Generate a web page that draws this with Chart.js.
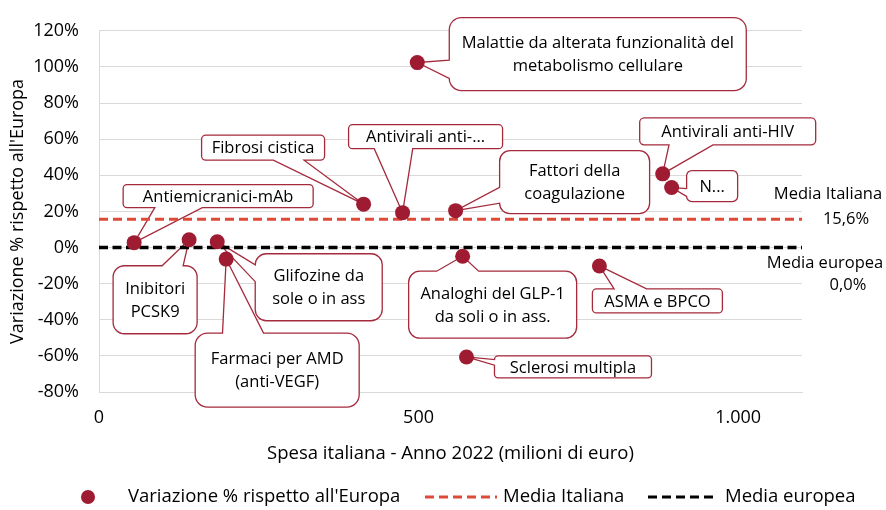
<!DOCTYPE html>
<html>
<head>
<meta charset="utf-8">
<script src="https://cdn.jsdelivr.net/npm/chart.js@4"></script>
<style>
  body { margin: 0; background: #fff; }
  #wrap { width: 886px; height: 510px; }
</style>
</head>
<body>
<div id="wrap"><canvas id="myChart"></canvas></div>
<script>
// dati
const categorie = [
  'Antiemicranici-mAb', 'Inibitori PCSK9', 'Glifozine da sole o in ass', 'Farmaci per AMD (anti-VEGF)',
  'Fibrosi cistica', 'Antivirali anti-...', 'Malattie da alterata funzionalità del metabolismo cellulare',
  'Fattori della coagulazione', 'Antivirali anti-HIV', 'N...', 'Analoghi del GLP-1 da soli o in ass.',
  'ASMA e BPCO', 'Sclerosi multipla'
];
const spesa = [55, 141, 185, 199, 414, 475, 498, 558, 882, 896, 569, 783, 575];
const variazione = [2.7, 4.3, 3.2, -6.4, 24.0, 19.3, 102.4, 20.4, 40.8, 33.2, -4.8, -10.2, -60.6];
const mediaItaliana = 15.6;
const mediaEuropea = 0.0;
const xTicks = [0, 500, 1000];
const yTicks = [-80, -60, -40, -20, 0, 20, 40, 60, 80, 100, 120];

// testo visibile nei riquadri (righe)
const etichette = [
  ['Antiemicranici-mAb'], ['Inibitori', 'PCSK9'], ['Glifozine da', 'sole o in ass'], ['Farmaci per AMD', '(anti-VEGF)'],
  ['Fibrosi cistica'], ['Antivirali anti-...'], ['Malattie da alterata funzionalità del', 'metabolismo cellulare'],
  ['Fattori della', 'coagulazione'], ['Antivirali anti-HIV'], ['N...'], ['Analoghi del GLP-1', 'da soli o in ass.'],
  ['ASMA e BPCO'], ['Sclerosi multipla']
];
// posizione dei riquadri rispetto al punto: [sinistra, alto, larghezza, altezza] in px
const riquadri = [
  [-11, -58, 190, 23], [-76, 26, 84, 68], [38, 12, 127, 67], [-31, 74, 164, 74],
  [-162, -69, 123, 25], [-54, -88, 154, 24], [32, -45, 297, 73],
  [44, -60, 150, 63], [-23, -56, 176, 27], [15, -17, 51, 31], [-54, 15, 168, 67],
  [-7, 23, 130, 24], [28, -1, 157, 22]
];

const FONT = '"Open Sans", sans-serif';
const ROSSO = '#9E1B32';
const BORDO = '#A52A3C';
const ARANCIO = '#DD4A38';

function fmtNum(v) {
  return String(v).replace(/\B(?=(\d{3})+(?!\d))/g, '.');
}
function fmtPct(v) {
  return v.toFixed(1).replace('.', ',') + '%';
}

function callout(ctx, x, y, w, h, tx, ty) {
  const r = Math.min(w, h) / 6;
  const dx = tx - (x + w / 2), dy = ty - (y + h / 2);
  const vert = Math.abs(dy / h) > Math.abs(dx / w);
  const x1 = x + w * (dx > 0 ? 7 : 2) / 12, x2 = x + w * (dx > 0 ? 10 : 5) / 12;
  const y1 = y + h * (dy > 0 ? 7 : 2) / 12, y2 = y + h * (dy > 0 ? 10 : 5) / 12;
  ctx.beginPath();
  ctx.moveTo(x + r, y);
  if (vert && dy < 0) { ctx.lineTo(x1, y); ctx.lineTo(tx, ty); ctx.lineTo(x2, y); }
  ctx.lineTo(x + w - r, y);
  ctx.arcTo(x + w, y, x + w, y + r, r);
  if (!vert && dx > 0) { ctx.lineTo(x + w, y1); ctx.lineTo(tx, ty); ctx.lineTo(x + w, y2); }
  ctx.lineTo(x + w, y + h - r);
  ctx.arcTo(x + w, y + h, x + w - r, y + h, r);
  if (vert && dy > 0) { ctx.lineTo(x2, y + h); ctx.lineTo(tx, ty); ctx.lineTo(x1, y + h); }
  ctx.lineTo(x + r, y + h);
  ctx.arcTo(x, y + h, x, y + h - r, r);
  if (!vert && dx < 0) { ctx.lineTo(x, y2); ctx.lineTo(tx, ty); ctx.lineTo(x, y1); }
  ctx.lineTo(x, y + r);
  ctx.arcTo(x, y, x + r, y, r);
  ctx.closePath();
  ctx.fillStyle = '#fff';
  ctx.fill();
  ctx.strokeStyle = BORDO;
  ctx.lineWidth = 1.3;
  ctx.stroke();
}

const calloutPlugin = {
  id: 'callouts',
  beforeDatasetsDraw(chart) {
    const ctx = chart.ctx;
    const xs = chart.scales.x, ys = chart.scales.y;
    ctx.save();
    spesa.forEach((v, i) => {
      const px = xs.getPixelForValue(v), py = ys.getPixelForValue(variazione[i]);
      const b = riquadri[i];
      const bx = px + b[0], by = py + b[1];
      callout(ctx, bx, by, b[2], b[3], px, py);
      ctx.fillStyle = '#000';
      ctx.font = '16.5px ' + FONT;
      ctx.textAlign = 'center';
      ctx.textBaseline = 'middle';
      const lines = etichette[i];
      const lh = 23;
      const top = by + b[3] / 2 - (lines.length - 1) * lh / 2;
      lines.forEach((t, k) => ctx.fillText(t, bx + b[2] / 2, top + k * lh + 1));
    });
    ctx.restore();
  }
};

const extraPlugin = {
  id: 'extra',
  afterDraw(chart) {
    const ctx = chart.ctx;
    const ys = chart.scales.y;
    ctx.save();
    ctx.fillStyle = '#000';
    ctx.textBaseline = 'middle';
    ctx.textAlign = 'center';
    ctx.font = '16.5px ' + FONT;
    const yi = ys.getPixelForValue(mediaItaliana);
    ctx.fillText('Media Italiana', 828, yi - 25);
    ctx.fillText(fmtPct(mediaItaliana), 846, yi);
    const ye = ys.getPixelForValue(mediaEuropea);
    ctx.fillText('Media europea', 825, ye + 16);
    ctx.fillText(fmtPct(mediaEuropea), 848, ye + 38);

    // legenda
    const ly = 497;
    ctx.textAlign = 'left';
    ctx.font = '18.5px ' + FONT;
    ctx.beginPath();
    ctx.arc(88, ly, 7, 0, Math.PI * 2);
    ctx.fillStyle = ROSSO;
    ctx.fill();
    ctx.fillStyle = '#000';
    ctx.fillText("Variazione % rispetto all'Europa", 128, ly);
    ctx.lineWidth = 3;
    ctx.setLineDash([9, 5]);
    ctx.strokeStyle = ARANCIO;
    ctx.beginPath(); ctx.moveTo(425, ly); ctx.lineTo(497, ly); ctx.stroke();
    ctx.strokeStyle = '#000';
    ctx.beginPath(); ctx.moveTo(648, ly); ctx.lineTo(718, ly); ctx.stroke();
    ctx.setLineDash([]);
    ctx.fillText('Media Italiana', 503, ly);
    ctx.fillText('Media europea', 725, ly);
    ctx.restore();
  }
};

function initChart() {
  const ctx = document.getElementById('myChart');
  const xMax = 1100;
  return new Chart(ctx, {
    type: 'scatter',
    data: {
      datasets: [
        {
          label: "Variazione % rispetto all'Europa",
          data: spesa.map((v, i) => ({ x: v, y: variazione[i] })),
          backgroundColor: ROSSO,
          borderWidth: 0,
          pointRadius: 7.5,
          order: 1
        },
        {
          type: 'line',
          label: 'Media Italiana',
          data: [{ x: 0, y: mediaItaliana }, { x: xMax, y: mediaItaliana }],
          borderColor: ARANCIO,
          borderWidth: 3,
          borderDash: [9, 5],
          pointRadius: 0,
          order: 2
        },
        {
          type: 'line',
          label: 'Media europea',
          data: [{ x: 0, y: mediaEuropea }, { x: xMax, y: mediaEuropea }],
          borderColor: '#000',
          borderWidth: 3.5,
          borderDash: [9, 4.5],
          pointRadius: 0,
          order: 3
        }
      ]
    },
    options: {
      responsive: true,
      maintainAspectRatio: false,
      animation: false,
      layout: { padding: { top: 19, right: 84, bottom: 0, left: 0 } },
      plugins: { legend: { display: false }, tooltip: { enabled: false } },
      scales: {
        x: {
          type: 'linear',
          min: 0,
          max: xMax,
          afterBuildTicks: s => { s.ticks = xTicks.map(v => ({ value: v })); },
          afterFit: s => { s.height = 118; },
          grid: { display: false, drawTicks: false },
          border: { display: true, color: '#D9D9D9' },
          ticks: {
            padding: 15,
            color: '#000',
            font: { family: FONT, size: 18 },
            callback: v => fmtNum(v)
          },
          title: {
            display: true,
            text: 'Spesa italiana - Anno 2022 (milioni di euro)',
            color: '#000',
            font: { family: FONT, size: 18.5 },
            padding: { top: 0, bottom: 45 }
          }
        },
        y: {
          min: -80,
          max: 120,
          afterBuildTicks: s => { s.ticks = yTicks.map(v => ({ value: v })); },
          afterFit: s => { s.width = 99; },
          grid: { color: '#D9D9D9', lineWidth: 1, drawTicks: false },
          border: { display: true, color: '#D9D9D9' },
          ticks: {
            padding: 20,
            color: '#000',
            font: { family: FONT, size: 18 },
            callback: v => v + '%'
          },
          title: {
            display: true,
            text: "Variazione % rispetto all'Europa",
            color: '#000',
            font: { family: FONT, size: 18 },
            padding: { top: 7, bottom: 0 }
          }
        }
      }
    },
    plugins: [calloutPlugin, extraPlugin]
  });
}

document.addEventListener('DOMContentLoaded', () => initChart());
</script>
</body>
</html>
